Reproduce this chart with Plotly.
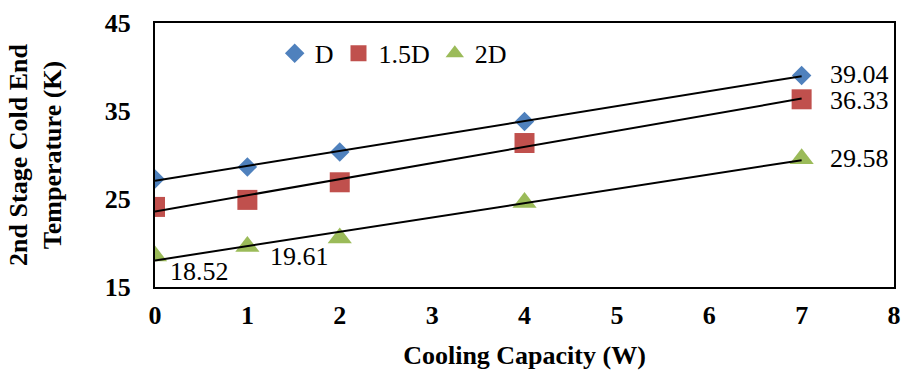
import numpy as np
import plotly.graph_objects as go

capacity = [0, 1, 2, 4, 7]
temp_D = [27.27, 28.64, 30.35, 33.8, 39.04]
temp_15D = [24.1, 24.9, 26.9, 31.36, 36.33]
temp_2D = [18.52, 19.61, 20.57, 24.6, 29.58]
series_names = ["D", "1.5D", "2D"]
y_ticks = [15, 25, 35, 45]
x_ticks = [0, 1, 2, 3, 4, 5, 6, 7, 8]

colors = ["#4F81BD", "#C0504D", "#9BBB59"]
symbols = ["diamond", "square", "triangle-up"]
sizes = [15, 20, 21]

font_family = "Liberation Serif, Times New Roman, serif"
FS = 26

fig = go.Figure()
all_series = [temp_D, temp_15D, temp_2D]
for name, ys, c, s, sz in zip(series_names, all_series, colors, symbols, sizes):
    fig.add_trace(go.Scatter(x=capacity, y=ys, mode="markers", name=name,
                             marker=dict(color=c, symbol=s, size=sz, line=dict(width=0))))
# linear trendlines
for ys in all_series:
    k, b = np.polyfit(capacity, ys, 1)
    xs = [capacity[0], capacity[-1]]
    fig.add_trace(go.Scatter(x=xs, y=[k * x + b for x in xs], mode="lines",
                             line=dict(color="black", width=2), showlegend=False,
                             hoverinfo="skip"))

# data labels
labels = [
    (capacity[4], temp_D[4], 26, 1),
    (capacity[4], temp_15D[4], 26, -1),
    (capacity[4], temp_2D[4], 26, 0),
    (capacity[0], temp_2D[0], 13, -15),
    (capacity[1], temp_2D[1], 21, -10),
]
for x, y, xs, ys in labels:
    fig.add_annotation(x=x, y=y, text=f"{y:.2f}", showarrow=False, xanchor="left",
                       yanchor="middle", xshift=xs, yshift=ys,
                       font=dict(family=font_family, size=FS, color="black"))

fig.update_layout(
    width=904, height=372,
    margin=dict(l=155, r=10, t=23, b=85),
    plot_bgcolor="white", paper_bgcolor="white",
    font=dict(family=font_family, color="black"),
    legend=dict(orientation="h", x=0.162, y=0.885, xanchor="left", yanchor="middle",
                font=dict(size=FS, family=font_family), bgcolor="rgba(0,0,0,0)",
                itemwidth=30, tracegroupgap=0),
    showlegend=True,
)
fig.update_xaxes(range=[0, 8], tickvals=x_ticks, showgrid=False, zeroline=False,
                 showline=True, linecolor="black", linewidth=2, mirror=True,
                 ticks="", ticklabelstandoff=4, automargin=False,
                 tickfont=dict(size=FS, family=font_family, weight="bold"),
                 title=dict(text="<b>Cooling Capacity (W)</b>", font=dict(size=FS), standoff=17))
fig.update_yaxes(range=[15, 45], tickvals=y_ticks, showgrid=False, zeroline=False,
                 showline=True, linecolor="black", linewidth=2, mirror=True,
                 ticks="", ticklabelstandoff=17, automargin=False,
                 tickfont=dict(size=FS, family=font_family, weight="bold"),
                 title=dict(text="<b>2nd Stage Cold End<br>Temperature (K)</b>", font=dict(size=FS), standoff=36))

fig.write_html("out.html", config={"displayModeBar": False},
               post_script="document.body.style.margin='0';")
